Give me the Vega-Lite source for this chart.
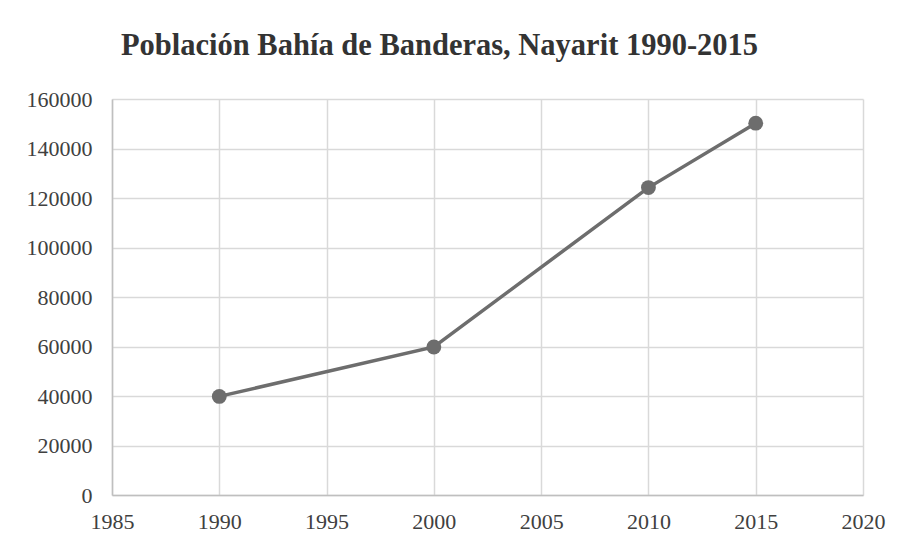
{
  "$schema": "https://vega.github.io/schema/vega-lite/v6.json",
  "autosize": "none",
  "width": 751,
  "height": 396,
  "padding": {"left": 112, "top": 99, "right": 47, "bottom": 56},
  "background": "white",
  "title": {
    "text": "Población Bahía de Banderas, Nayarit 1990-2015",
    "font": "Liberation Serif",
    "fontSize": 30.5,
    "fontWeight": "bold",
    "color": "#333333",
    "anchor": "middle",
    "dx": -48,
    "offset": 27
  },
  "data": {
    "values": [
      {"year": 1990, "population": 39831},
      {"year": 2000, "population": 59808},
      {"year": 2010, "population": 124205},
      {"year": 2015, "population": 150250}
    ]
  },
  "mark": {"type": "line", "color": "#6d6d6d", "strokeWidth": 3.5, "point": {"filled": true, "size": 220, "color": "#6d6d6d", "opacity": 1}},
  "encoding": {
    "x": {
      "field": "year",
      "type": "quantitative",
      "scale": {"domain": [1985, 2020], "nice": false, "zero": false},
      "axis": {"values": [1985, 1990, 1995, 2000, 2005, 2010, 2015, 2020], "format": "d", "title": null, "ticks": false, "labelPadding": 16, "domainColor": "#bfbfbf", "domainWidth": 1.5}
    },
    "y": {
      "field": "population",
      "type": "quantitative",
      "scale": {"domain": [0, 160000], "nice": false},
      "axis": {"values": [0, 20000, 40000, 60000, 80000, 100000, 120000, 140000, 160000], "format": "d", "title": null, "ticks": false, "labelPadding": 20, "domainColor": "#bfbfbf", "domainWidth": 1.5}
    }
  },
  "config": {
    "view": {"stroke": null},
    "axis": {
      "labelFont": "Liberation Serif",
      "labelFontSize": 22,
      "labelColor": "#404040",
      "gridColor": "#d9d9d9",
      "gridWidth": 1.5,
      "labelFlush": false,
      "labelOverlap": false
    }
  }
}
